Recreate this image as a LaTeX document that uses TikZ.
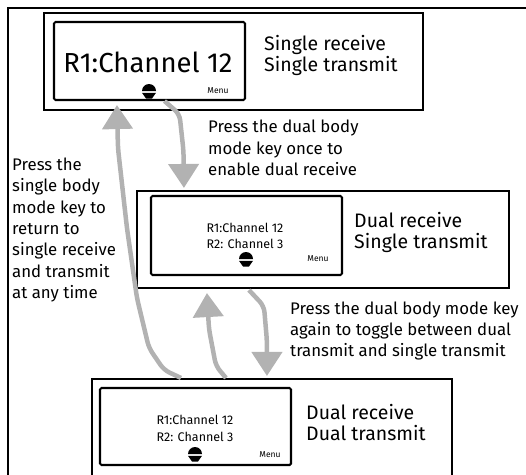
\documentclass[tikz,border=0pt]{standalone}
\usepackage{fontspec}
\setmainfont{Fira Sans}
\usetikzlibrary{calc,arrows.meta}

\tikzset{
  statebox/.style={draw, line width=2.1pt, inner sep=0pt},
  display/.style={draw, line width=2.1pt, rounded corners=1.5pt, inner sep=0pt, minimum width=191pt},
  modelabel/.style={anchor=west, align=left, inner sep=0pt, font=\fontsize{19.5}{21}\selectfont},
  note/.style={anchor=west, align=left, inner sep=0pt, font=\fontsize{16.8}{21.3}\selectfont},
  screentext/.style={inner sep=0pt, font=\fontsize{12.5}{14}\selectfont},
  menutext/.style={inner sep=0pt, font=\fontsize{8.5}{9}\selectfont},
  grayarrow/.style={draw=black!30, line width=4.5pt, rounded corners=6pt, -{Triangle[width=30pt,length=24pt]}},
  scrollkey/.pic={
    \fill (-7,0) arc[start angle=180,end angle=360,radius=7] -- cycle;
    \fill (-7,1.8) -- (7,1.8) -- (3,7.5) -- (-3,7.5) -- cycle;
  }
}

\begin{document}
\begin{tikzpicture}[x=1pt, y=-1pt]
\useasboundingbox (0,0) rectangle (526,474);
\clip (0,0) rectangle (526,474);

% frame
\draw[line width=1.6pt] (8,8) rectangle (540,490);

% Single receive, single transmit
\node[statebox, minimum width=379pt, minimum height=97pt] (state1) at (233.5,61.5) {};
\node[display, minimum height=78pt] (disp1) at (149.5,61) {};
\node[inner sep=0pt, font=\fontsize{27.5}{30}\selectfont] (chan1) at (148,62) {R1:Channel 12};
\pic at (149,91) {scrollkey};
\node[menutext] (menu1) at (218,91) {Menu};
\node[modelabel] (mode1) at (264,55) {Single receive\\Single transmit};

% Dual receive, single transmit
\node[statebox, minimum width=372pt, minimum height=97pt] (state2) at (323,239.5) {};
\node[display, minimum height=79pt] (disp2) at (246.5,235.5) {};
\node[screentext] (chan2a) at (245,228) {R1:Channel 12};
\node[screentext] (chan2b) at (245,244) {R2: Channel 3};
\pic at (246,259) {scrollkey};
\node[menutext] (menu2) at (318,259) {Menu};
\node[modelabel] (mode2) at (354,232.5) {Dual receive\\Single transmit};

% Dual receive, dual transmit
\node[statebox, minimum width=360pt, minimum height=111pt] (state3) at (272,434.5) {};
\node[display, minimum height=77pt] (disp3) at (195.5,426.5) {};
\node[screentext] (chan3a) at (195,420) {R1:Channel 12};
\node[screentext] (chan3b) at (195,437) {R2: Channel 3};
\pic at (195,454) {scrollkey};
\node[menutext] (menu3) at (270,455) {Menu};
\node[modelabel] (mode3) at (306,423) {Dual receive\\Dual transmit};

% notes
\node[note] (note1) at (208,148) {Press the dual body\\mode key once to\\enable dual receive};
\node[note] (note2) at (12,230) {Press the\\single body\\mode key to\\return to\\single receive\\and transmit\\at any time};
\node[note] (note3) at (290,331) {Press the dual body mode key\\again to toggle between dual\\transmit and single transmit};

% arrows
\draw[grayarrow] ($(disp1.south)+(15,0)$) -- ++(15,13) -- ++(4,37) -- ($(state2.north west)+(48,-2)$);
\draw[grayarrow] ($(state3.north west)+(90,0)$) -- ++(-17,-8) -- ++(-15,-22) -- ++(-12,-50) -- ++(-10,-70) -- ++(-9,-80) -- ($(disp1.south west)+(64,4)$);
\draw[grayarrow] ($(state3.north west)+(135,0)$) -- ++(-10,-12) -- ++(-7,-37) -- ($(state2.south west)+(71,4)$);
\draw[grayarrow] ($(state2.south west)+(113,1)$) -- ++(15,16) -- ++(3,35) -- ($(state3.north west)+(176,-2)$);
\end{tikzpicture}
\end{document}
